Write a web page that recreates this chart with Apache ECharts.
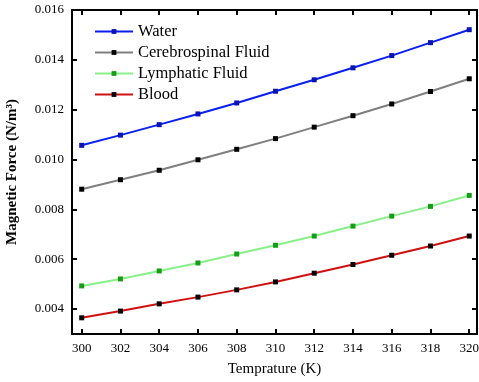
<!DOCTYPE html>
<html>
<head>
<meta charset="utf-8">
<script src="https://cdn.jsdelivr.net/npm/echarts@6/dist/echarts.min.js"></script>
<style>
  html, body { margin: 0; padding: 0; background: #fff; }
  #chart { width: 479px; height: 382px; }
</style>
</head>
<body>
<div id="chart"></div>
<script>
// temperatures (K)
const temps = [300, 302, 304, 306, 308, 310, 312, 314, 316, 318, 320];
// y tick values
const yTicks = [0.004, 0.006, 0.008, 0.01, 0.012, 0.014, 0.016];
// magnetic force (N/m^3)
const water = [0.01057, 0.01098, 0.0114, 0.01183, 0.01227, 0.01274, 0.0132, 0.01368, 0.01417, 0.01469, 0.01521];
const csf = [0.00881, 0.00919, 0.00957, 0.00999, 0.01041, 0.01084, 0.0113, 0.01176, 0.01223, 0.01273, 0.01324];
const lymph = [0.00493, 0.00521, 0.00553, 0.00585, 0.00621, 0.00656, 0.00693, 0.00733, 0.00773, 0.00812, 0.00856];
const blood = [0.00365, 0.00392, 0.00421, 0.00448, 0.00477, 0.00509, 0.00544, 0.00579, 0.00616, 0.00653, 0.00693];

const font = "'Liberation Serif', 'Times New Roman', serif";

const pairs = (ys) => temps.map((t, i) => [t, ys[i]]);

const mkSeries = (name, ys, lineColor, markColor) => ({
  name: name,
  type: "line",
  data: pairs(ys),
  symbol: "rect",
  symbolSize: 5,
  itemStyle: { color: markColor },
  lineStyle: { color: lineColor, width: 2 },
  emphasis: { disabled: true },
});

const axisLine = { show: true, onZero: false, lineStyle: { color: "#000", width: 2 } };

const chart = echarts.init(document.getElementById("chart"));
chart.setOption({
  animation: false,
  grid: { left: 72, right: 2, top: 10, bottom: 48, outerBoundsMode: "none" },
  legend: {
    left: 89,
    top: 18,
    orient: "vertical",
    itemGap: 4,
    itemWidth: 38,
    itemHeight: 6,
    textStyle: { fontFamily: font, fontSize: 16.5, color: "#000" },
    data: ["Water", "Cerebrospinal Fluid", "Lymphatic Fluid", "Blood"],
  },
  xAxis: [
    {
      type: "value",
      min: 299.5,
      max: 320.4,
      name: "Temprature (K)",
      nameLocation: "middle",
      nameGap: 28,
      nameTextStyle: { fontFamily: font, fontSize: 15, color: "#000" },
      axisLine: axisLine,
      axisTick: { show: true, inside: true, length: 5, lineStyle: { width: 2 }, customValues: temps },
      axisLabel: { fontFamily: font, fontSize: 13, color: "#000", margin: 8, customValues: temps },
      splitLine: { show: false },
    },
    {
      type: "value",
      position: "top",
      min: 299.5,
      max: 320.4,
      axisLine: axisLine,
      axisTick: { show: true, inside: true, length: 5, lineStyle: { width: 2 }, customValues: temps },
      axisLabel: { show: false },
      splitLine: { show: false },
    },
  ],
  yAxis: [
    {
      type: "value",
      min: 0.003,
      max: 0.016,
      name: "Magnetic Force (N/m³)",
      nameLocation: "middle",
      nameGap: 52,
      nameTextStyle: { fontFamily: font, fontSize: 15, fontWeight: "bold", color: "#000" },
      axisLine: axisLine,
      axisTick: { show: true, inside: true, length: 5, lineStyle: { width: 2 }, customValues: yTicks },
      axisLabel: {
        fontFamily: font, fontSize: 13, color: "#000", margin: 8,
        customValues: yTicks,
        formatter: (v) => v.toFixed(3),
      },
      splitLine: { show: false },
    },
    {
      type: "value",
      position: "right",
      min: 0.003,
      max: 0.016,
      axisLine: axisLine,
      axisTick: { show: true, inside: true, length: 5, lineStyle: { width: 2 }, customValues: yTicks },
      axisLabel: { show: false },
      splitLine: { show: false },
    },
  ],
  series: [
    mkSeries("Water", water, "#0a1ef0", "#0a14b4"),
    mkSeries("Cerebrospinal Fluid", csf, "#7f7f7f", "#000"),
    mkSeries("Lymphatic Fluid", lymph, "#88f088", "#169c16"),
    mkSeries("Blood", blood, "#d01010", "#000"),
  ],
});
</script>
</body>
</html>
